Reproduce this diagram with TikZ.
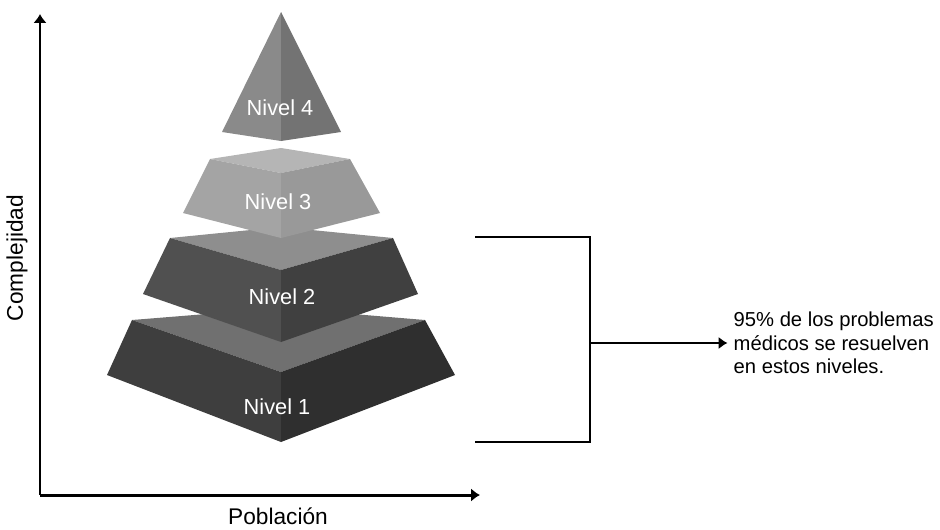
\documentclass[tikz,border=0pt]{standalone}
\usepackage{tikz}
\usetikzlibrary{shapes,arrows,arrows.meta}
\usepackage{fontspec}
\setmainfont{Liberation Sans}

\definecolor{n4left}{HTML}{8A8A8A}
\definecolor{n4right}{HTML}{737373}
\definecolor{n3top}{HTML}{B5B5B5}
\definecolor{n3left}{HTML}{A4A4A4}
\definecolor{n3right}{HTML}{999999}
\definecolor{n2top}{HTML}{8E8E8E}
\definecolor{n2left}{HTML}{505050}
\definecolor{n2right}{HTML}{404040}
\definecolor{n1top}{HTML}{707070}
\definecolor{n1left}{HTML}{3E3E3E}
\definecolor{n1right}{HTML}{2F2F2F}

\begin{document}
\begin{tikzpicture}
		\tikzstyle {axis line} = [line width=1.7pt, -{Latex[length=5pt,width=7.5pt]}]
		\tikzstyle {bracket line} = [line width=1.6pt]
		\tikzstyle {level label} = [text=white, font=\fontsize{12.4}{14}\selectfont]
		\tikzstyle {axis label} = [font=\fontsize{12.9}{15}\selectfont]

		\useasboundingbox (0,0) rectangle (18.8,10.58);

		% ejes
		\coordinate (origin) at (0.8,0.68);
		\coordinate (ytop) at (0.8,10.3);
		\coordinate (xend) at (9.6,0.68);
		\draw[axis line] (origin) -- (ytop);
		\draw[axis line] (origin) -- (xend);
		\node[axis label, rotate=90] (complejidad) at (0.34,5.42) {Complejidad};
		\node[axis label] (poblacion) at (5.56,0.26) {Población};

		% nivel 1
		\fill[n1top] (5.62,4.42) -- (2.64,4.18) -- (5.62,3.14) -- (8.5,4.18) -- cycle;
		\fill[n1left] (2.64,4.18) -- (5.62,3.14) -- (5.62,1.74) -- (2.14,3.08) -- cycle;
		\fill[n1right] (8.5,4.18) -- (5.62,3.14) -- (5.62,1.74) -- (9.1,3.08) -- cycle;

		% nivel 2
		\fill[n2top] (5.62,6.04) -- (3.4,5.82) -- (5.62,5.18) -- (7.86,5.82) -- cycle;
		\fill[n2left] (3.4,5.82) -- (5.62,5.18) -- (5.62,3.74) -- (2.86,4.7) -- cycle;
		\fill[n2right] (7.86,5.82) -- (5.62,5.18) -- (5.62,3.74) -- (8.36,4.7) -- cycle;

		% nivel 3
		\fill[n3top] (5.62,7.62) -- (4.2,7.4) -- (5.62,7.12) -- (7.0,7.4) -- cycle;
		\fill[n3left] (4.2,7.4) -- (5.62,7.12) -- (5.62,5.82) -- (3.66,6.32) -- cycle;
		\fill[n3right] (7.0,7.4) -- (5.62,7.12) -- (5.62,5.82) -- (7.6,6.32) -- cycle;

		% nivel 4
		\fill[n4left] (5.62,10.34) -- (4.44,7.94) -- (5.62,7.76) -- cycle;
		\fill[n4right] (5.62,10.34) -- (6.82,7.94) -- (5.62,7.76) -- cycle;

		\node[level label] (nivel4) at (5.6,8.42) {Nivel 4};
		\node[level label] (nivel3) at (5.56,6.54) {Nivel 3};
		\node[level label] (nivel2) at (5.64,4.64) {Nivel 2};
		\node[level label] (nivel1) at (5.54,2.44) {Nivel 1};

		% llave
		\coordinate (btop) at (9.5,5.84);
		\coordinate (bbot) at (9.5,1.74);
		\coordinate (ctop) at (11.8,5.84);
		\coordinate (cbot) at (11.8,1.74);
		\coordinate (cmid) at (11.8,3.72);
		\draw[bracket line] (btop) -- (ctop) -- (cbot) -- (bbot);
		\node[anchor=west, align=left, font=\fontsize{11.5}{13.4}\selectfont] (nota) at (14.55,3.72)
			{95\% de los problemas\\médicos se resuelven\\en estos niveles.};
		\draw[bracket line, -{Latex[length=5pt,width=7pt]}] (cmid) -- (nota.west);
	\end{tikzpicture}
\end{document}
